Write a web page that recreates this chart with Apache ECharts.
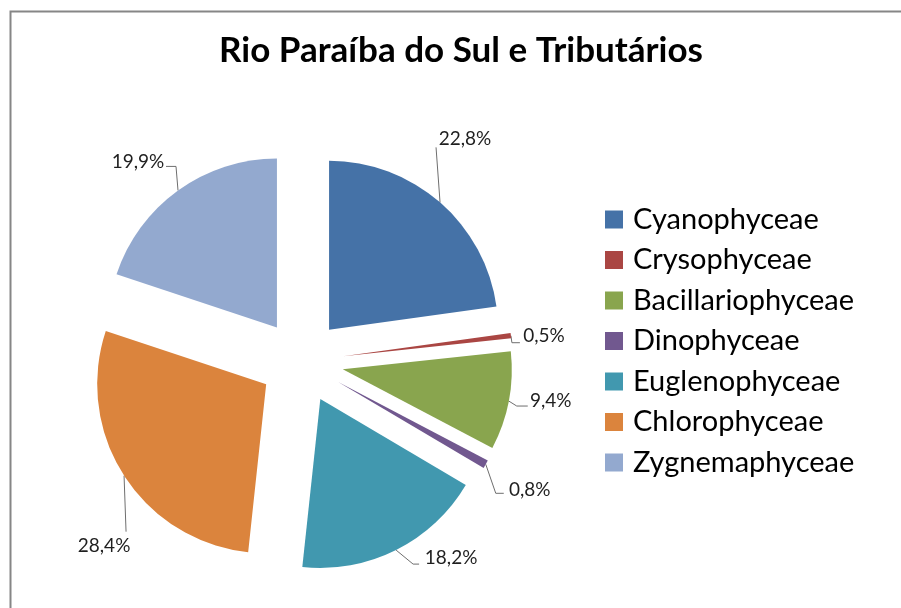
<!DOCTYPE html>
<html>
<head>
<meta charset="utf-8">
<script src="https://cdn.jsdelivr.net/npm/echarts@6/dist/echarts.min.js"></script>
<style>
  html, body { margin: 0; padding: 0; background: #ffffff; }
  #chart { width: 901px; height: 608px; }
</style>
</head>
<body>
<div id="chart"></div>
<script>
// Phytoplankton classes and their share of the total (%)
const categories = ['Cyanophyceae', 'Crysophyceae', 'Bacillariophyceae', 'Dinophyceae', 'Euglenophyceae', 'Chlorophyceae', 'Zygnemaphyceae'];
const shares = [22.8, 0.5, 9.4, 0.8, 18.2, 28.4, 19.9];
const chartTitle = 'Rio Paraíba do Sul e Tributários';

// Slice colours
const palette = ['#4572A7', '#AA4643', '#89A54E', '#71588F', '#4198AF', '#DB843D', '#93A9CF'];

// Pie geometry
const PIE_CENTER = [301.5, 361.5];
const PIE_RADIUS = 169;
const EXPLODE = 42;

// Leader shapes, relative to the point where each leader leaves its slice:
// bend and end of the polyline, and the centre of the label text.
const leaderShapes = [
  { bend: [-4, -55], end: [-4, -55], text: [25, -63] },
  { bend: [1, 7], end: [9, 7], text: [33, 1] },
  { bend: [8, 5], end: [19, 5], text: [42, 1] },
  { bend: [10, 29], end: [18, 29], text: [44, 26] },
  { bend: [17, 14], end: [23, 14], text: [55, 8] },
  { bend: [2, 56], end: [2, 56], text: [-20, 70] },
  { bend: [-2, -24], end: [-12, -24], text: [-40, -29] }
];
// Distance ECharts keeps between a leader end and its text
const TEXT_GAP = 5;
const LABEL_SIZE = 19;

const FONT = 'Lato, Carlito, "Liberation Sans", sans-serif';
const formatShare = v => v.toFixed(1).replace('.', ',') + '%';

// Which side of the pie each label sits on (sign of the bisector's x component)
function sideOf(i) {
  const before = shares.slice(0, i).reduce((s, v) => s + v, 0);
  const total = shares.reduce((s, v) => s + v, 0);
  const mid = (before + shares[i] / 2) / total * 2 * Math.PI;
  return Math.sin(mid) < 0 ? -1 : 1;
}

// Vertical alignment and padding that move a label from its default spot
// (just beside the leader start) to the wanted one
function labelPlacement(i) {
  const t = leaderShapes[i].text;
  const sx = t[0] - sideOf(i) * TEXT_GAP;
  const sy = t[1];
  const half = LABEL_SIZE / 2;
  let verticalAlign = 'middle';
  let top = 0;
  let bottom = 0;
  if (sy >= half - 2) {
    verticalAlign = 'top';
    top = sy - half;
  } else if (sy <= -half) {
    verticalAlign = 'bottom';
    bottom = -sy - half;
  }
  return {
    verticalAlign: verticalAlign,
    padding: [top, sx < 0 ? -2 * sx : 0, bottom, sx > 0 ? 2 * sx : 0]
  };
}

const chart = echarts.init(document.getElementById('chart'), null, { renderer: 'canvas' });

chart.setOption({
  animation: false,
  color: palette,
  title: {
    text: chartTitle,
    left: 461,
    top: 33,
    padding: 0,
    textAlign: 'center',
    textStyle: { fontFamily: FONT, fontWeight: 'bold', fontSize: 35, color: '#000000' }
  },
  legend: {
    orient: 'vertical',
    left: 605,
    top: 205,
    padding: 0,
    itemWidth: 18,
    itemHeight: 18,
    itemGap: 11.5,
    icon: 'rect',
    selectedMode: false,
    data: categories,
    textStyle: { fontFamily: FONT, fontSize: 29, color: '#000000', padding: [0, 0, 0, 5] }
  },
  graphic: [{
    type: 'rect',
    left: 8,
    top: 9,
    silent: true,
    shape: { width: 1000, height: 1000 },
    style: { fill: 'none', stroke: '#868686', lineWidth: 2 }
  }],
  series: [{
    type: 'pie',
    center: PIE_CENTER,
    radius: PIE_RADIUS,
    startAngle: 90,
    clockwise: true,
    selectedMode: 'multiple',
    selectedOffset: EXPLODE,
    avoidLabelOverlap: false,
    emphasis: { disabled: true },
    itemStyle: { borderWidth: 0 },
    label: {
      show: true,
      position: 'outside',
      distanceToLabelLine: TEXT_GAP,
      fontFamily: FONT,
      fontSize: LABEL_SIZE,
      lineHeight: LABEL_SIZE,
      color: '#1f1f1f',
      formatter: p => formatShare(p.value)
    },
    labelLine: {
      show: true,
      length: 0,
      length2: 0,
      lineStyle: { color: '#6e6e6e', width: 1 }
    },
    // Excel-style leaders: a short bent line from the slice edge to its label
    labelLayout: function (params) {
      const pts = params.labelLinePoints;
      const shape = leaderShapes[params.dataIndex];
      if (!pts || !shape) return {};
      const a = pts[0];
      return {
        align: 'center',
        verticalAlign: labelPlacement(params.dataIndex).verticalAlign,
        labelLinePoints: [
          [a[0], a[1]],
          [a[0] + shape.bend[0], a[1] + shape.bend[1]],
          [a[0] + shape.end[0], a[1] + shape.end[1]]
        ]
      };
    },
    data: categories.map((name, i) => ({
      name: name,
      value: shares[i],
      selected: true,
      label: { padding: labelPlacement(i).padding }
    }))
  }]
});
</script>
</body>
</html>
